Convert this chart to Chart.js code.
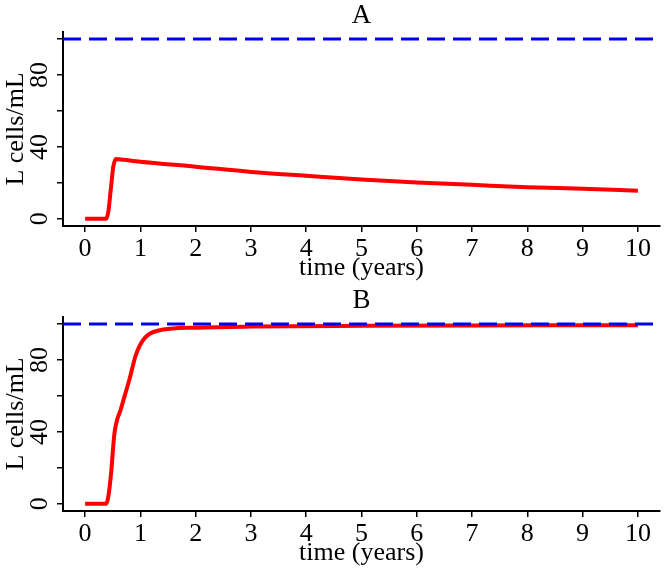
<!DOCTYPE html>
<html>
<head>
<meta charset="utf-8">
<script src="https://cdn.jsdelivr.net/npm/chart.js@4.4.1/dist/chart.umd.min.js"></script>
<style>
  body { margin: 0; background: #fff; }
  .panel { position: absolute; left: 0; width: 665px; height: 284px; }
</style>
</head>
<body>
<div class="panel" style="top:0"><canvas id="chartA" width="665" height="284"></canvas></div>
<div class="panel" style="top:285px"><canvas id="chartB" width="665" height="284"></canvas></div>
<script>
// values
const timeA = [0, 0.38, 0.42, 0.47, 0.51, 0.56, 0.7, 1, 2, 3, 4, 5, 6, 7, 8, 9, 10];
const cellsA = [0, 0, 4, 18, 29, 33.3, 32.8, 31.7, 29, 26.1, 23.9, 21.8, 20.2, 18.9, 17.6, 16.7, 15.6];

const timeB = [0, 0.38, 0.42, 0.47, 0.53, 0.65, 0.8, 0.92, 1.07, 1.31, 2, 3, 5, 7, 10];
const cellsB = [0, 0, 4, 17, 39, 53, 69, 83, 92, 96.3, 98, 98.6, 99, 99.2, 99.3];

const capacity = 100;
const xTicks = [0, 1, 2, 3, 4, 5, 6, 7, 8, 9, 10];
const yTicks = [0, 20, 40, 60, 80, 100];
const yLabels = [0, 40, 80];

const serif = 'Liberation Serif';

function toPoints(xs, ys) {
  return xs.map((x, i) => ({ x: x, y: ys[i] }));
}

function drawPanel(id, title, xs, ys) {
  const ctx = document.getElementById(id).getContext('2d');
  new Chart(ctx, {
    type: 'line',
    data: {
      datasets: [
        {
          data: [{ x: -0.4, y: capacity }, { x: 10.4, y: capacity }],
          borderColor: '#0000ee',
          borderWidth: 3,
          borderDash: [18, 8],
          pointRadius: 0
        },
        {
          data: toPoints(xs, ys),
          borderColor: '#ff0000',
          borderWidth: 4,
          pointRadius: 0,
          cubicInterpolationMode: 'monotone'
        }
      ]
    },
    options: {
      responsive: false,
      animation: false,
      layout: { padding: { left: 0, right: 5, top: 0, bottom: 0 } },
      plugins: {
        legend: { display: false },
        tooltip: { enabled: false },
        title: {
          display: true,
          text: title,
          fullSize: false,
          color: '#000',
          font: { family: serif, size: 27, weight: 'normal', lineHeight: 1.15 },
          padding: { top: 0, bottom: 0.8 }
        }
      },
      scales: {
        x: {
          type: 'linear',
          min: -0.4,
          max: 10.4,
          afterBuildTicks: s => { s.ticks = xTicks.map(v => ({ value: v })); },
          afterFit: s => { s.height = 58; },
          border: { display: true, color: '#000', width: 2 },
          grid: { drawOnChartArea: false, drawTicks: true, tickLength: 6, color: '#000', lineWidth: 1.5 },
          ticks: { color: '#000', padding: 2, maxRotation: 0, font: { family: serif, size: 26 } },
          title: {
            display: true,
            text: 'time (years)',
            color: '#000',
            padding: { top: 0, bottom: 0 },
            font: { family: serif, size: 26 }
          }
        },
        y: {
          type: 'linear',
          min: -4,
          max: 104,
          afterBuildTicks: s => { s.ticks = yTicks.map(v => ({ value: v })); },
          afterFit: s => { s.width = 63; },
          border: { display: true, color: '#000', width: 2 },
          grid: { drawOnChartArea: false, drawTicks: true, tickLength: 6, color: '#000', lineWidth: 1.5 },
          ticks: {
            color: '#000',
            padding: 4,
            minRotation: 90,
            maxRotation: 90,
            crossAlign: 'center',
            font: { family: serif, size: 26 },
            callback: v => yLabels.includes(v) ? String(v) : ''
          },
          title: {
            display: true,
            text: 'L cells/mL',
            color: '#000',
            padding: { top: 1, bottom: 0 },
            font: { family: serif, size: 26 }
          }
        }
      }
    }
  });
}

drawPanel('chartA', 'A', timeA, cellsA);
drawPanel('chartB', 'B', timeB, cellsB);
</script>
</body>
</html>
